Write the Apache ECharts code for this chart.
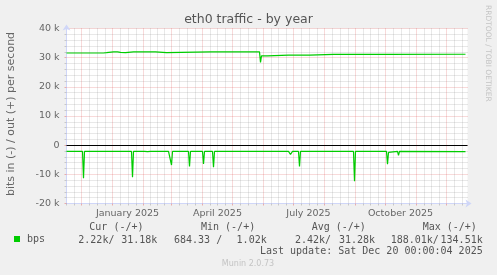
<!DOCTYPE html>
<html><head><meta charset="utf-8">
<script src="https://cdn.jsdelivr.net/npm/echarts@6/dist/echarts.min.js"></script>
<style>html,body{margin:0;padding:0;background:#f0f0f0;}#c{width:497px;height:275px;}</style>
</head><body><div id="c"></div>
<script>
const chartTitle = 'eth0 traffic - by year';
const yAxisName = 'bits in (-) / out (+) per second';
const watermark = 'RRDTOOL / TOBI OETIKER';
const xRange = ['2024-11-16', '2025-12-22'];
const monthStarts = ['2024-11-01','2024-12-01','2025-01-01','2025-02-01','2025-03-01','2025-04-01','2025-05-01',
  '2025-06-01','2025-07-01','2025-08-01','2025-09-01','2025-10-01','2025-11-01','2025-12-01','2026-01-01'];
const xLabelDates = ['2025-01-16','2025-04-16','2025-07-16','2025-10-16'];
const xLabels = ['January 2025','April 2025','July 2025','October 2025'];

const outDates = ['2024-11-16','2024-12-02','2024-12-03','2024-12-04','2024-12-23','2024-12-24','2024-12-26','2024-12-28',
  '2025-01-02','2025-01-04','2025-01-06','2025-01-09','2025-01-11','2025-01-14','2025-01-16','2025-01-22','2025-01-24',
  '2025-01-26','2025-02-13','2025-02-14','2025-02-24','2025-02-25','2025-04-09','2025-04-10','2025-04-11','2025-04-18',
  '2025-04-19','2025-04-20','2025-05-28','2025-05-29','2025-05-30','2025-06-05','2025-06-06','2025-06-26','2025-06-27',
  '2025-06-28','2025-07-17','2025-07-18','2025-08-10','2025-08-11','2025-08-12','2025-08-28','2025-08-29','2025-08-30',
  '2025-09-06','2025-09-07','2025-09-08','2025-10-02','2025-10-03','2025-10-04','2025-12-20'];
const outValues = [31600,31600,31900,31600,31600,32000,31700,32000,
  32000,31700,32000,31800,32000,31700,32000,32000,31800,
  32000,32000,31700,31700,32000,32000,31700,32000,32000,
  31700,32000,32000,28400,30600,30600,30900,30900,31200,
  30900,30900,31100,31100,30800,31100,31100,30800,31100,
  31100,30800,31100,31100,31400,31100,31180];

const inDates = ['2024-11-16','2024-11-20','2024-11-21','2024-11-22','2024-12-02','2024-12-03','2024-12-04','2024-12-08',
  '2024-12-09','2024-12-10','2025-01-12','2025-01-13','2025-01-14','2025-01-20','2025-01-21','2025-01-22','2025-02-02',
  '2025-02-03','2025-02-05','2025-02-06','2025-02-08','2025-02-26','2025-02-27','2025-02-28','2025-03-01','2025-03-02',
  '2025-03-18','2025-03-19','2025-03-20','2025-04-01','2025-04-02','2025-04-03','2025-04-11','2025-04-12','2025-04-13',
  '2025-05-29','2025-05-30','2025-05-31','2025-06-26','2025-06-27','2025-06-28','2025-06-29','2025-06-30','2025-07-06',
  '2025-07-07','2025-07-08','2025-08-30','2025-08-31','2025-09-01','2025-10-02','2025-10-03','2025-10-04','2025-10-05',
  '2025-10-13','2025-10-14','2025-10-15','2025-12-20'];
const inValues = [2150,2150,1900,2150,2150,11300,2150,2150,
  1950,2150,2150,2600,2150,2150,11000,2150,2150,
  2600,2200,2500,2150,2150,2600,2600,6800,2150,
  2150,7300,2150,2150,6400,2150,2150,7600,2150,
  2150,2500,2150,2150,2600,3200,2600,2150,2150,
  7300,2150,2150,12400,2150,2150,6500,2500,2150,
  2150,3500,2150,2220];

const legendName = 'bps';
const legendHeaders = ['Cur (-/+)','Min (-/+)','Avg (-/+)','Max (-/+)'];
const legendIn = ['2.22k/','684.33 /','2.42k/','188.01k/'];
const legendOut = ['31.18k','1.02k','31.28k','134.51k'];
const lastUpdate = 'Last update: Sat Dec 20 00:00:04 2025';
const footer = 'Munin 2.0.73';

function ts(s){ const p = s.split('-').map(Number); return Date.UTC(p[0], p[1]-1, p[2]); }
const DAY = 86400000;
const monthTs = monthStarts.map(ts);
const minorTs = [];
for (let i = 0; i < monthTs.length - 1; i++) {
  const len = monthTs[i+1] - monthTs[i];
  for (let k = 1; k < 4; k++) minorTs.push(monthTs[i] + len * k / 4);
}
const labelTs = xLabelDates.map(ts);
const xMin = ts(xRange[0]), xMax = xMin + 401 * DAY;
const inRange = v => v >= xMin && v <= xMax;

const GREEN = '#00cc00';
const MAJOR = 'rgba(222,79,79,0.42)';
const MINOR = 'rgba(143,143,143,0.42)';
const AXIS = '#CFD6F8';
const FONT = '#666';

const chart = echarts.init(document.getElementById('c'), null, {renderer:'canvas'});
const hdrX = [89.3, 201, 311.7, 422.7];
const inX = [78.3, 174, 295, 390.7];
const outX = [157.3, 266.7, 375, 482.7];
const mono = '10px "DejaVu Sans Mono"';
const graphics = [
  {type:'text', x:248.5, y:19.5, style:{text:chartTitle, font:'12.5px "DejaVu Sans"', fill:'#555', align:'center', verticalAlign:'middle'}},
  {type:'text', x:11.5, y:114, rotation:Math.PI/2, style:{text:yAxisName, font:'11px "DejaVu Sans"', fill:FONT, align:'center', verticalAlign:'middle'}},
  {type:'text', x:488, y:5, rotation:-Math.PI/2, style:{text:watermark, font:'7.5px "DejaVu Sans"', fill:'#c4c4c4', align:'left', verticalAlign:'middle'}},
  {type:'text', x:482.7, y:251.7, style:{text:lastUpdate, font:mono, fill:'#555', align:'right', verticalAlign:'middle'}},
  {type:'text', x:248, y:264, style:{text:footer, font:'8px "DejaVu Sans"', fill:'#c4c4c4', align:'center', verticalAlign:'middle'}}
];
legendHeaders.forEach((t,i)=>graphics.push({type:'text', x:hdrX[i], y:227.3, style:{text:t, font:mono, fill:'#555', align:'left', verticalAlign:'middle'}}));
legendIn.forEach((t,i)=>graphics.push({type:'text', x:inX[i], y:240, style:{text:t, font:mono, fill:'#555', align:'left', verticalAlign:'middle'}}));
legendOut.forEach((t,i)=>graphics.push({type:'text', x:outX[i], y:240, style:{text:t, font:mono, fill:'#555', align:'right', verticalAlign:'middle'}}));

chart.setOption({
  animation:false,
  backgroundColor:'#f0f0f0',
  grid:{left:66.5, top:28.5, width:401, height:175, show:true, backgroundColor:'#fff', borderWidth:0, outerBoundsMode:'none'},
  legend:{data:[legendName], left:14, top:234, padding:0, icon:'rect', itemWidth:6, itemHeight:6,
    textStyle:{fontFamily:'DejaVu Sans Mono', fontSize:10, color:'#555', padding:[0,0,0,2]}},
  xAxis:[
    {type:'value', min:xMin, max:xMax, position:'bottom',
      axisLine:{show:true, onZero:false, lineStyle:{color:AXIS}, symbol:['none','arrow'], symbolSize:[6,6], symbolOffset:[0,4]},
      axisTick:{show:true, length:2, customValues:monthTs.filter(inRange), lineStyle:{color:MAJOR}},
      axisLabel:{show:true, customValues:labelTs, margin:5, color:FONT, fontFamily:'DejaVu Sans', fontSize:9.5,
        formatter:function(v){ const i = labelTs.indexOf(v); return i >= 0 ? xLabels[i] : ''; }},
      splitLine:{show:true, lineStyle:{color:MAJOR, type:[1,1]}}},
    {type:'value', min:xMin, max:xMax, position:'bottom',
      axisLine:{show:false, onZero:false}, axisLabel:{show:false},
      axisTick:{show:true, length:2, customValues:minorTs.filter(inRange), lineStyle:{color:MINOR}},
      splitLine:{show:true, lineStyle:{color:MINOR, type:[1,1]}}}
  ],
  yAxis:{type:'value', min:-20000, max:40000, interval:10000,
    axisLine:{show:true, onZero:false, lineStyle:{color:AXIS}, symbol:['none','arrow'], symbolSize:[6,6], symbolOffset:[0,4]},
    axisTick:{show:true, length:2, lineStyle:{color:MAJOR}},
    minorTick:{show:true, splitNumber:5, length:2, lineStyle:{color:MINOR}},
    minorSplitLine:{show:true, lineStyle:{color:MINOR, type:[1,1]}},
    splitLine:{show:true, lineStyle:{color:MAJOR, type:[1,1]}},
    axisLabel:{color:FONT, fontFamily:'DejaVu Sans', fontSize:9.5, margin:7,
      formatter:function(v){ return v === 0 ? '0' : (v/1000) + ' k'; }}},
  series:[
    {name:legendName, type:'line', xAxisIndex:0, showSymbol:false, symbol:'none', z:3,
      itemStyle:{color:GREEN}, lineStyle:{color:GREEN, width:1.2},
      data: inDates.map((d,i)=>[ts(d), -inValues[i]])},
    {name:legendName, type:'line', xAxisIndex:0, showSymbol:false, symbol:'none', z:3,
      itemStyle:{color:GREEN}, lineStyle:{color:GREEN, width:1.2},
      data: outDates.map((d,i)=>[ts(d), outValues[i]]),
      markLine:{silent:true, symbol:'none', label:{show:false}, animation:false,
        lineStyle:{color:'#000', width:1, type:'solid'}, data:[{yAxis:0}]}}
  ],
  graphic:graphics
});
</script></body></html>
